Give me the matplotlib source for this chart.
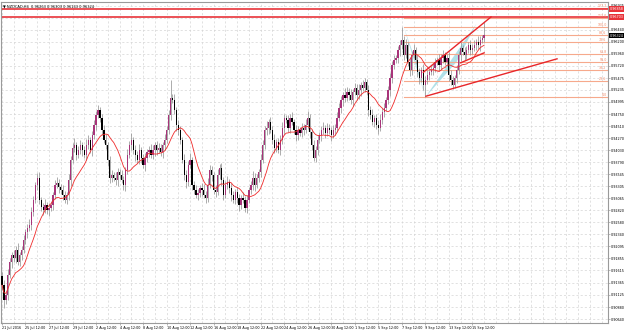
import numpy as np
import pandas as pd
import matplotlib
matplotlib.use("Agg")
import matplotlib.pyplot as plt
import matplotlib.transforms as mtransforms

# NZDCAD H4 closes, in pips (1e-4)
first_open = 9150
close_pips = [
    9132, 9102, 9112, 9152, 9178, 9192, 9186, 9202, 9178, 9192,
    9202, 9222, 9238, 9246, 9252, 9279, 9303, 9333, 9347, 9303,
    9289, 9283, 9293, 9283, 9287, 9293, 9313, 9333, 9337, 9329,
    9323, 9313, 9303, 9313, 9343, 9383, 9407, 9413, 9393, 9403,
    9413, 9403, 9393, 9413, 9423, 9403, 9433, 9453, 9473, 9483,
    9467, 9443, 9423, 9413, 9383, 9347, 9353, 9347, 9343, 9359,
    9353, 9343, 9333, 9363, 9393, 9413, 9423, 9403, 9393, 9383,
    9403, 9387, 9373, 9387, 9399, 9403, 9393, 9403, 9413, 9403,
    9407, 9399, 9413, 9423, 9443, 9473, 9507, 9503, 9483, 9453,
    9443, 9423, 9383, 9353, 9339, 9373, 9383, 9333, 9323, 9313,
    9317, 9327, 9323, 9313, 9307, 9333, 9363, 9353, 9323, 9319,
    9353, 9367, 9343, 9313, 9333, 9339, 9327, 9313, 9303, 9319,
    9307, 9293, 9307, 9303, 9287, 9303, 9323, 9333, 9347, 9333,
    9347, 9359, 9383, 9413, 9443, 9447, 9459, 9443, 9423, 9407,
    9419, 9403, 9423, 9447, 9467, 9463, 9447, 9467, 9459, 9443,
    9433, 9443, 9437, 9447, 9443, 9453, 9467, 9439, 9413, 9387,
    9403, 9423, 9433, 9443, 9447, 9437, 9447, 9443, 9433, 9443,
    9447, 9467, 9487, 9503, 9513, 9507, 9519, 9513, 9503, 9519,
    9527, 9513, 9523, 9533, 9527, 9539, 9523, 9483, 9473, 9459,
    9467, 9453, 9447, 9463, 9479, 9487, 9503, 9523, 9547, 9574,
    9584, 9588, 9604, 9614, 9624, 9594, 9614, 9580, 9564, 9594,
    9604, 9584, 9559, 9547, 9564, 9533, 9543, 9553, 9559, 9564,
    9568, 9580, 9584, 9574, 9588, 9594, 9580, 9588, 9553, 9543,
    9533, 9547, 9564, 9594, 9608, 9600, 9594, 9604, 9614, 9604,
    9608, 9614, 9620, 9614, 9624, 9628, 9634,
]
upper_wick = [
    8, 10, 6, 12, 8, 6, 10, 8, 14, 6, 8, 10, 6, 8, 12, 10, 8, 6, 10, 12,
    6, 8, 12, 6, 10, 8, 6, 10, 12, 8, 6, 10, 8, 6, 12, 8, 10, 14, 6, 8,
    10, 6, 8, 12, 10, 6, 8, 10, 8, 10, 6, 8, 10, 12, 6, 8, 10, 6, 12, 8,
    6, 10, 8, 6, 12, 8, 14, 6, 10, 8, 12, 6, 8, 10, 6, 8, 12, 10, 6, 8,
    10, 8, 6, 12, 8, 10, 36, 8, 12, 6, 10, 8, 6, 12, 10, 8, 14, 6, 8, 10,
    8, 6, 10, 12, 8, 14, 10, 8, 6, 10, 12, 8, 10, 6, 8, 12, 6, 10, 8, 6,
    10, 8, 6, 12, 8, 10, 6, 8, 14, 10, 8, 6, 12, 10, 8, 14, 6, 10, 8, 12,
    6, 8, 10, 12, 8, 6, 10, 8, 12, 6, 10, 8, 6, 10, 8, 12, 14, 8, 6, 10,
    8, 10, 6, 8, 12, 6, 10, 8, 6, 10, 8, 12, 10, 8, 6, 14, 10, 8, 12, 6,
    10, 8, 12, 6, 10, 8, 6, 10, 8, 12, 6, 8, 10, 12, 8, 10, 6, 8, 10, 8,
    10, 6, 8, 10, 26, 8, 12, 6, 10, 8, 12, 6, 10, 8, 6, 12, 8, 10, 6, 8,
    10, 8, 6, 12, 8, 10, 6, 8, 12, 10, 8, 6, 10, 8, 12, 6, 10, 8, 6, 10,
    8, 10, 6, 12, 8, 6, 26,
]
lower_wick = [
    10, 16, 8, 10, 6, 12, 8, 10, 6, 8, 10, 6, 8, 12, 6, 10, 8, 6, 10, 8,
    8, 10, 6, 8, 12, 6, 10, 8, 6, 12, 8, 10, 6, 8, 10, 12, 6, 8, 10, 6,
    8, 12, 6, 10, 8, 6, 12, 8, 10, 6, 8, 10, 6, 8, 12, 10, 8, 6, 10, 12,
    8, 6, 10, 12, 8, 6, 10, 8, 12, 6, 8, 10, 6, 12, 8, 10, 6, 8, 12, 10,
    6, 8, 12, 10, 6, 8, 10, 6, 8, 12, 10, 8, 6, 10, 12, 8, 6, 10, 8, 6,
    10, 8, 12, 6, 10, 8, 6, 12, 8, 10, 6, 8, 12, 10, 6, 8, 10, 12, 6, 8,
    10, 12, 8, 6, 8, 10, 6, 8, 10, 12, 6, 8, 10, 6, 8, 10, 12, 6, 8, 10,
    8, 6, 10, 8, 12, 6, 8, 10, 6, 8, 12, 10, 6, 8, 10, 6, 8, 12, 10, 6,
    8, 10, 6, 12, 8, 10, 6, 8, 12, 6, 10, 8, 6, 10, 12, 8, 6, 10, 8, 12,
    6, 10, 8, 12, 6, 8, 10, 12, 8, 6, 10, 8, 12, 6, 8, 10, 6, 8, 12, 10,
    8, 6, 10, 12, 8, 10, 6, 8, 12, 10, 6, 8, 10, 12, 8, 10, 24, 8, 10, 6,
    10, 8, 6, 12, 8, 10, 6, 8, 12, 10, 8, 6, 10, 8, 12, 6, 10, 8, 6, 10,
    8, 6, 10, 8, 12, 6, 8,
]

date_labels = ["21 Jul 2016", "25 Jul 12:00", "27 Jul 12:00", "29 Jul 12:00",
               "2 Aug 12:00", "4 Aug 12:00", "8 Aug 12:00", "10 Aug 12:00",
               "12 Aug 12:00", "16 Aug 12:00", "18 Aug 12:00", "22 Aug 12:00",
               "24 Aug 12:00", "26 Aug 12:00", "30 Aug 12:00", "1 Sep 12:00",
               "5 Sep 12:00", "7 Sep 12:00", "9 Sep 12:00", "13 Sep 12:00",
               "15 Sep 12:00"]
price_ticks = [0.90640, 0.90880, 0.91125, 0.91365, 0.91615, 0.91855, 0.92095,
               0.92340, 0.92580, 0.92820, 0.93065, 0.93305, 0.93545, 0.93790,
               0.94030, 0.94270, 0.94510, 0.94750, 0.94995, 0.95235, 0.95475,
               0.95720, 0.95960, 0.96200, 0.96440, 0.96680, 0.96925]
hidden_tick = 0.96680  # covered by the red price box

fib_levels = [0.0, 23.6, 38.2, 50.0, 61.8, 78.6, 88.6, 100.0, 113.0, 127.2]
fib_low, fib_high = 0.95090, 0.96500
fib_start = 205
red_levels = [0.96858, 0.96703]
last_price = 0.96324

# pattern drawing: (bar, price)
tri1 = [(205, 0.96500), (211, 0.95830), (216, 0.95090)]
tri2 = [(216, 0.95090), (242, 0.96560), (232, 0.95800)]
trend_lines = [[(215, 0.95590), (249.5, 0.96700)],
               [(234, 0.95780), (246, 0.95980)],
               [(216.3, 0.95110), (283.2, 0.95860)]]

close = np.array(close_pips) / 1e4
open_ = np.r_[first_open / 1e4, close[:-1]]
high = np.maximum(open_, close) + np.array(upper_wick) / 1e4
low = np.minimum(open_, close) - np.array(lower_wick) / 1e4
ma = pd.Series(close).rolling(12, min_periods=1).mean()
idx = np.arange(len(close))

fig = plt.figure(figsize=(6.25, 3.3), dpi=100)
ax = fig.add_axes([1 / 625, 7 / 330, 607 / 625, 321 / 330])
ax.set_xlim(-0.5, 309.2)
ax.set_ylim(0.9056, 0.9700)

for y in price_ticks:
    ax.axhline(y, color="#d4d4d4", lw=0.5, ls=(0, (3, 3)), zorder=0)
for x in range(0, 310, 6):
    ax.axvline(x, color="#d4d4d4", lw=0.5, ls=(0, (3, 3)), zorder=0)

# harmonic triangles
for tri in (tri1, tri2):
    ax.fill([p[0] for p in tri], [p[1] for p in tri], color="#a8dde6", alpha=0.9, lw=0, zorder=1)

# fibonacci
for lev in fib_levels:
    p = fib_low + (fib_high - fib_low) * lev / 100
    ax.plot([fib_start, 309.2], [p, p], color="#f6a98c", lw=0.8, zorder=1)
    ax.text(308.5, p, f"{lev:.1f}", color="#f08a6a", fontsize=2.3, ha="right", va="bottom", zorder=5)

for p in red_levels:
    ax.axhline(p, color="#e8333a", lw=1.2, zorder=2)

# candles
up = close >= open_
ax.vlines(idx, low, high, color="#8c8c8c", lw=0.5, zorder=3)
ax.bar(idx[up], (close - open_)[up], bottom=open_[up], width=0.65, color="#a8347a", lw=0, zorder=4)
ax.bar(idx[~up], (open_ - close)[~up], bottom=close[~up], width=0.65, color="#000000", lw=0, zorder=4)

ax.plot(idx, ma, color="#f02a2a", lw=0.6, zorder=5)

for line in trend_lines:
    ax.plot([line[0][0], line[1][0]], [line[0][1], line[1][1]], color="#e8262a", lw=1.0, zorder=6)

# axes styling
ax.yaxis.tick_right()
ax.set_yticks(price_ticks)
ax.set_yticklabels(["" if t == hidden_tick else f"{t:.5f}" for t in price_ticks])
ax.set_xticks(np.arange(0, 12 * len(date_labels), 12))
ax.set_xticklabels(date_labels, ha="left")
ax.tick_params(axis="both", labelsize=2.4, length=1.2, width=0.4, color="#808080", pad=0.8)
for s in ax.spines.values():
    s.set_color("#9a9a9a")
    s.set_linewidth(0.8)

trans = mtransforms.blended_transform_factory(ax.transAxes, ax.transData)
for p in red_levels:
    ax.text(1.003, p, f"{p:.5f}", transform=trans, fontsize=2.4, color="white", va="center",
            bbox=dict(facecolor="#e8333a", edgecolor="none", pad=0.5), clip_on=False)
ax.text(1.003, last_price, f"{last_price:.5f}", transform=trans, fontsize=2.4, color="white", va="center",
        bbox=dict(facecolor="black", edgecolor="none", pad=0.5), clip_on=False)

ax.text(0.004, 0.992, "\u25bc NZDCAD,H4  0.96263 0.96303 0.96143 0.96324", transform=ax.transAxes,
        fontsize=2.6, va="top", ha="left")

fig.savefig("out.png", dpi=100)
